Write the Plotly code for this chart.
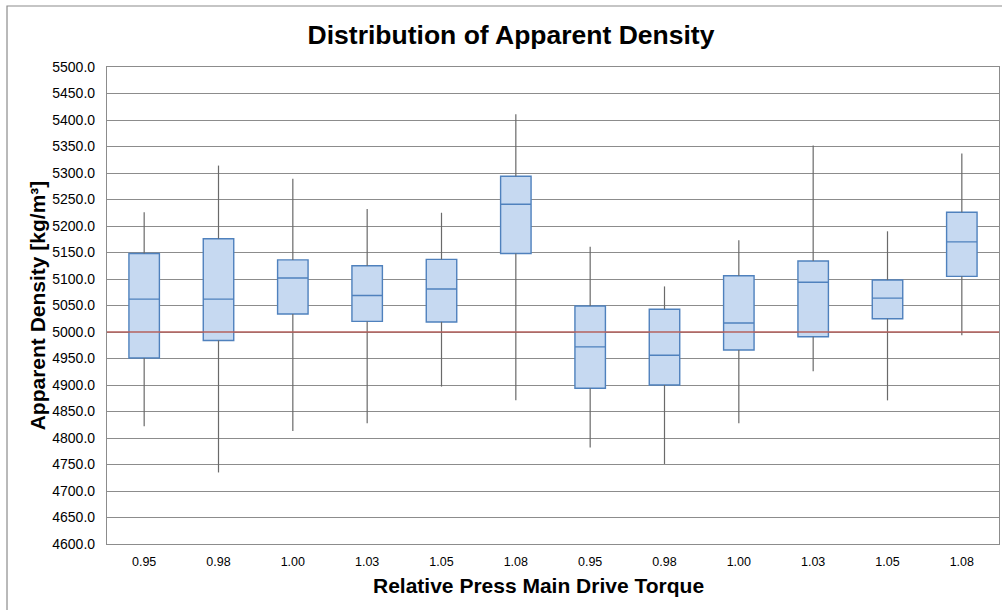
import plotly.graph_objects as go

categories = ["0.95", "0.98", "1.00", "1.03", "1.05", "1.08",
              "0.95", "0.98", "1.00", "1.03", "1.05", "1.08"]
lower = [4822, 4735, 4813, 4828, 4897, 4871, 4782, 4751, 4828, 4926, 4871, 4994]
q1 = [4951, 4984, 5034, 5020, 5019, 5148, 4894, 4900, 4966, 4991, 5025, 5105]
median = [5062, 5062, 5102, 5069, 5081, 5241, 4972, 4956, 5017, 5094, 5064, 5170]
q3 = [5148, 5176, 5136, 5125, 5137, 5294, 5049, 5043, 5106, 5134, 5098, 5226]
upper = [5226, 5314, 5289, 5232, 5225, 5411, 5161, 5086, 5173, 5352, 5190, 5337]
reference_value = 5000
y_ticks = list(range(4600, 5501, 50))

positions = list(range(len(categories)))

# whiskers (gray)
wx, wy = [], []
for p, lo, a, b, hi in zip(positions, lower, q1, q3, upper):
    wx += [p, p, None, p, p, None]
    wy += [lo, a, None, b, hi, None]

fig = go.Figure()
fig.add_trace(go.Scatter(x=wx, y=wy, mode="lines",
                         line=dict(color="#6a6a6a", width=1.2),
                         hoverinfo="skip", showlegend=False))
fig.add_trace(go.Box(
    x=positions, q1=q1, median=median, q3=q3,
    lowerfence=q1, upperfence=q3,
    width=0.41, whiskerwidth=0,
    fillcolor="#c6d9f1", line=dict(color="#4f81bd", width=1.4),
    showlegend=False, boxpoints=False))

fig.add_shape(type="line", xref="paper", yref="y", x0=0, x1=1,
              y0=reference_value, y1=reference_value,
              line=dict(color="#b5605c", width=1.6), layer="above")

# outer chart frame
fig.add_shape(type="rect", xref="paper", yref="paper",
              x0=-0.1121, x1=1.02, y0=-0.17, y1=1.1279,
              line=dict(color="#8c8c8c", width=1.2), layer="below")

fig.add_annotation(text="<b>Relative Press Main Drive Torque</b>",
                   xref="paper", yref="paper", x=0.4843, y=-0.086,
                   xanchor="center", yanchor="middle", showarrow=False,
                   font=dict(size=21, color="#000000"))

fig.update_layout(
    width=1002, height=610,
    margin=dict(l=107, r=3, t=67, b=66, autoexpand=False),
    paper_bgcolor="white", plot_bgcolor="white",
    font=dict(family="Liberation Sans, Arial, sans-serif", color="#000000"),
    title=dict(text="<b>Distribution of Apparent Density</b>",
               x=0.51, xref="container", xanchor="center",
               y=0.943, yanchor="middle",
               font=dict(size=26.5, color="#000000")),
    xaxis=dict(range=[-0.5, 11.5], tickmode="array", tickvals=positions,
               ticktext=categories, showgrid=False, zeroline=False,
               tickfont=dict(size=12.5), ticks="outside", ticklen=6,
               tickcolor="rgba(0,0,0,0)", automargin=False,
               showline=True, linecolor="#8c8c8c", linewidth=1.2, mirror=True),
    yaxis=dict(range=[4600, 5500], tickmode="array", tickvals=y_ticks,
               ticktext=[f"{v:.1f}" for v in y_ticks],
               showgrid=True, gridcolor="#8c8c8c", gridwidth=1,
               zeroline=False, tickfont=dict(size=14), ticks="outside",
               ticklen=8, tickcolor="rgba(0,0,0,0)", automargin=False,
               showline=True, linecolor="#8c8c8c", linewidth=1.2, mirror=True,
               title=dict(text="<b>Apparent Density [kg/m³]</b>",
                          font=dict(size=21), standoff=0)),
)

fig.write_html("out.html", config={"displayModeBar": False},
               post_script="document.body.style.margin='0';document.body.style.overflow='hidden';")
